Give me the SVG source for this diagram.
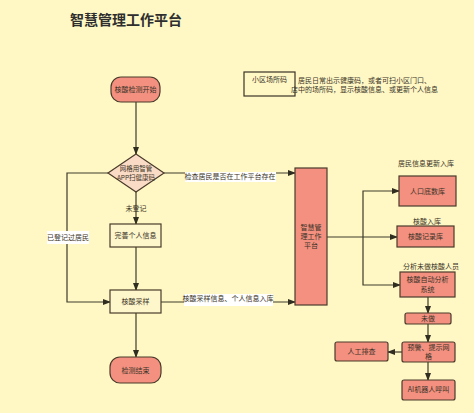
<svg xmlns="http://www.w3.org/2000/svg" width="474" height="413" viewBox="0 0 474 413">
<style>
text{font-family:"Noto Sans CJK SC","Liberation Sans",sans-serif;font-size:7px;fill:#3a3326;text-anchor:middle}
.title{font-size:14px;font-weight:bold;fill:#2e2e2e}
.n{fill:#F39080;stroke:#4a3b2a;stroke-width:1.2}
.p{fill:#FFF7CC;stroke:#4a3b2a;stroke-width:1.2}
.e{stroke:#3e3b28;stroke-width:1.2;fill:none}
.lb{fill:#ffffff}
.note{text-anchor:start}
.s{font-size:6.5px}
</style>
<defs>
<marker id="a" markerWidth="8" markerHeight="6" refX="7" refY="3" orient="auto" markerUnits="userSpaceOnUse">
<path d="M0,0 L8,3 L0,6 Z" fill="#2f2e20"/>
</marker>
</defs>
<rect width="474" height="413" fill="#FFF8C5"/>
<text class="title" x="126" y="25">智慧管理工作平台</text>

<g id="connectors">
<path class="e" d="M136,102 V154" marker-end="url(#a)"/>
<path class="e" d="M108,173 H67 V302 H110" marker-end="url(#a)"/>
<path class="e" d="M164,173 H295" marker-end="url(#a)"/>
<path class="e" d="M136,192 V224" marker-end="url(#a)"/>
<path class="e" d="M136,247 V290" marker-end="url(#a)"/>
<path class="e" d="M161,302 H295" marker-end="url(#a)"/>
<path class="e" d="M136,313 V357" marker-end="url(#a)"/>
<path class="e" d="M327,237 H397" marker-end="url(#a)"/>
<path class="e" d="M363,237 V191 H399" marker-end="url(#a)"/>
<path class="e" d="M363,237 V285 H400" marker-end="url(#a)"/>
<path class="e" d="M428,297 V313" marker-end="url(#a)"/>
<path class="e" d="M428,324 V342" marker-end="url(#a)"/>
<path class="e" d="M402,352 H388" marker-end="url(#a)"/>
<path class="e" d="M428,362 V380" marker-end="url(#a)"/>
<rect class="lb" x="47" y="231" width="42" height="13"/>
<text x="68" y="240">已登记过居民</text>
<rect class="lb" x="185" y="172" width="91" height="10" fill="#FFF8C5"/>
<text x="230" y="179">检查居民是否在工作平台存在</text>
<text x="136" y="211">未登记</text>
<rect class="lb" x="184" y="294" width="89" height="12"/>
<text x="228" y="301">核酸采样信息、个人信息入库</text>
<text x="426" y="166">居民信息更新入库</text>
<text x="427" y="224">核酸入库</text>
<text x="431" y="269">分析未做核酸人员</text>
</g>

<g id="start"><rect class="n" x="111" y="77" width="49" height="25" rx="10"/><text x="135.5" y="92">核酸检测开始</text></g>
<g id="scan"><path d="M136,154 L164,173 L136,192 L108,173 Z" fill="#FADCC6" stroke="#4a3b2a" stroke-width="1.2"/><text class="s" x="136" y="171">网格用智管</text><text class="s" x="136" y="180">APP扫健康码</text></g>
<g id="complete"><rect class="p" x="110" y="224" width="51" height="23"/><text x="135.5" y="238">完善个人信息</text></g>
<g id="sample"><rect class="p" x="110" y="290" width="51" height="23"/><text x="135.5" y="304">核酸采样</text></g>
<g id="end"><rect class="n" x="110" y="357" width="51" height="26" rx="10"/><text x="135.5" y="373">检测结束</text></g>
<g id="platform"><rect class="n" x="295" y="168" width="32" height="137"/><text x="311" y="230">智慧管</text><text x="311" y="239">理工作</text><text x="311" y="248">平台</text></g>
<g id="code"><rect x="244" y="72" width="51" height="24" fill="none" stroke="#3a3326" stroke-width="1.2"/><text x="269.5" y="82">小区场所码</text></g>
<g id="note"><text class="note" x="298" y="83">居民日常出示健康码，或者可扫小区门口、</text><text class="note" x="291" y="92">店中的场所码，显示核酸信息、或更新个人信息</text></g>
<g id="population"><rect class="n" x="399" y="176" width="57" height="30"/><text x="427.5" y="194">人口底数库</text></g>
<g id="record"><rect class="n" x="397" y="226" width="57" height="21"/><text x="425.5" y="239">核酸记录库</text></g>
<g id="analysis"><rect class="n" x="400" y="272" width="55" height="25"/><text x="427.5" y="282">核酸自动分析</text><text x="427.5" y="292">系统</text></g>
<g id="notdone"><rect class="n" x="405" y="313" width="46" height="11" rx="2"/><text x="428" y="321">未做</text></g>
<g id="alert"><rect class="n" x="402" y="342" width="53" height="20" rx="2"/><text x="428.5" y="350">预警、提示网</text><text x="428.5" y="359">格</text></g>
<g id="manual"><rect class="n" x="335" y="342" width="53" height="19" rx="2"/><text x="361.5" y="354">人工排查</text></g>
<g id="ai"><rect class="n" x="402" y="380" width="53" height="20" rx="2"/><text x="428.5" y="392">AI机器人呼叫</text></g>
</svg>
